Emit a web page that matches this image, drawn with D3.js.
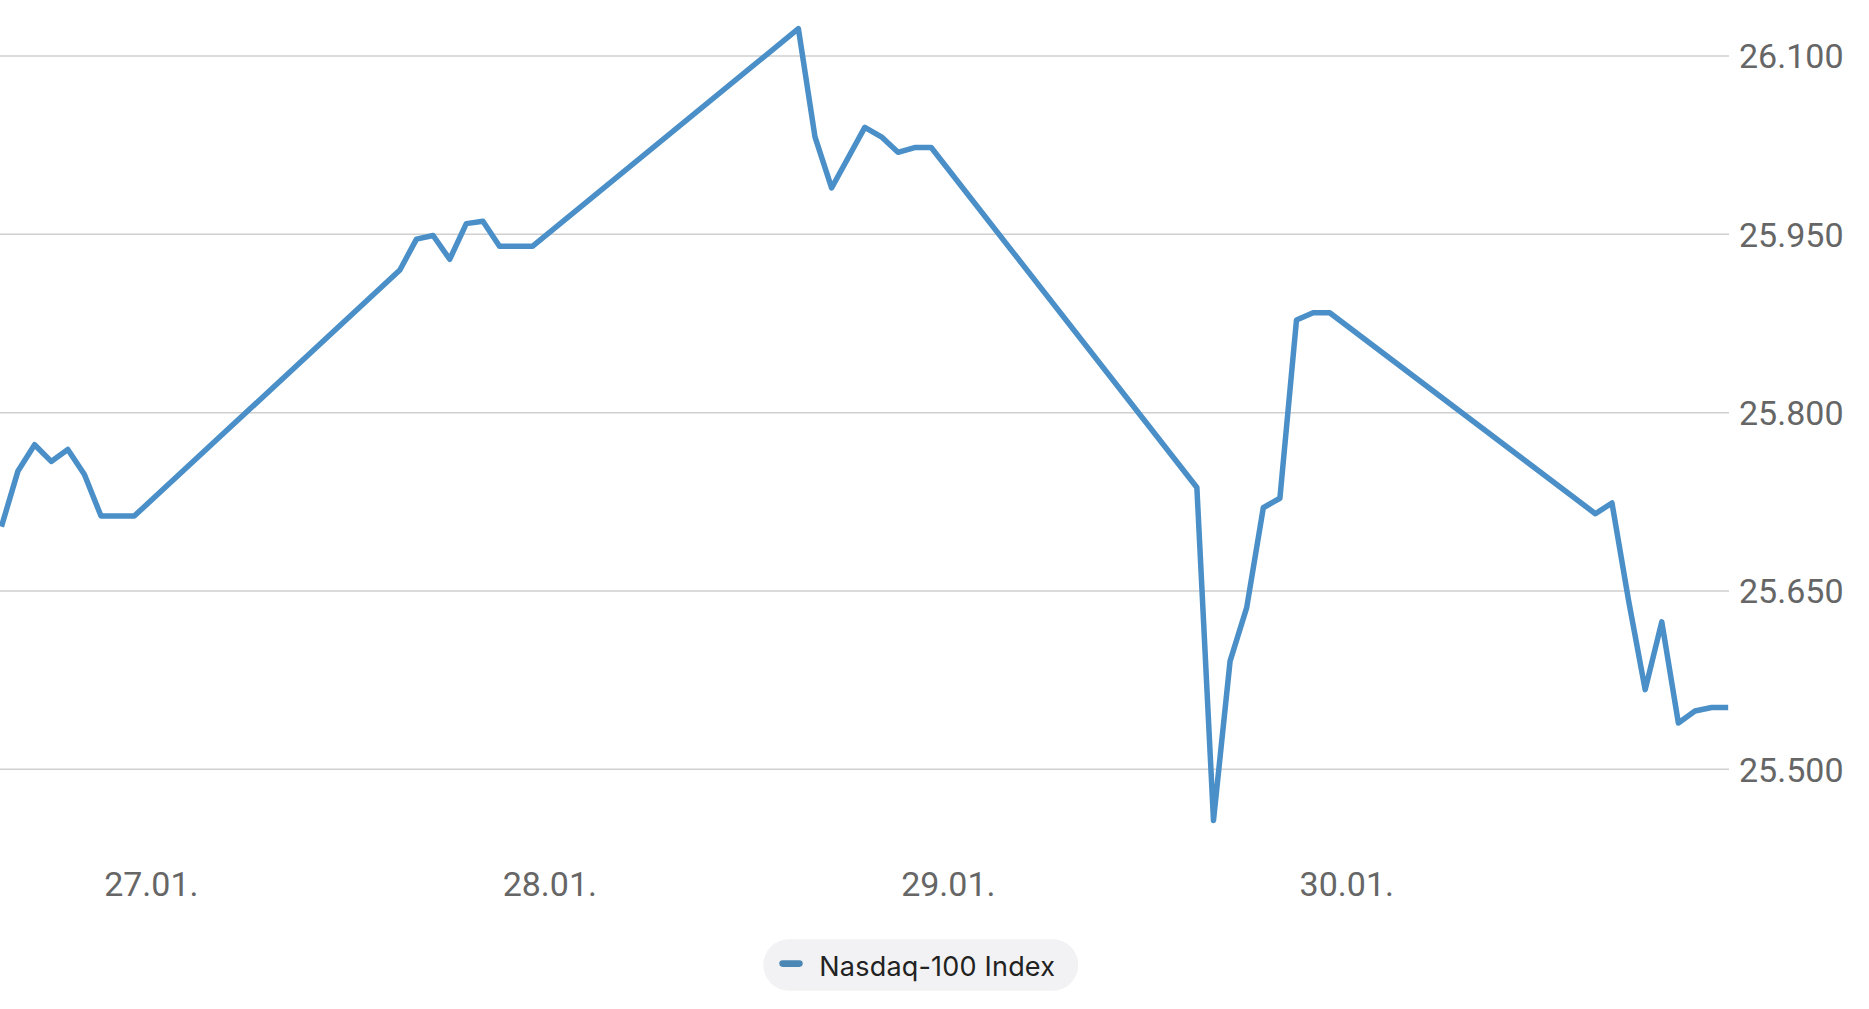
<!DOCTYPE html>
<html>
<head>
<meta charset="utf-8">
<script src="https://cdn.jsdelivr.net/npm/d3@7"></script>
<style>
  html, body { margin: 0; padding: 0; background: #ffffff; }
  svg { display: block; }
</style>
</head>
<body>
<svg id="chart" width="1869" height="1009"></svg>
<script>
// ---- data ----
const seriesName = "Nasdaq-100 Index";
const times = [
  "2026-01-26 15:00","2026-01-26 16:00","2026-01-26 17:00","2026-01-26 18:00","2026-01-26 19:00","2026-01-26 20:00","2026-01-26 21:00","2026-01-26 22:00","2026-01-26 23:00",
  "2026-01-27 15:00","2026-01-27 16:00","2026-01-27 17:00","2026-01-27 18:00","2026-01-27 19:00","2026-01-27 20:00","2026-01-27 21:00","2026-01-27 22:00","2026-01-27 23:00",
  "2026-01-28 15:00","2026-01-28 16:00","2026-01-28 17:00","2026-01-28 19:00","2026-01-28 20:00","2026-01-28 21:00","2026-01-28 22:00","2026-01-28 23:00",
  "2026-01-29 15:00","2026-01-29 16:00","2026-01-29 17:00","2026-01-29 18:00","2026-01-29 19:00","2026-01-29 20:00","2026-01-29 21:00","2026-01-29 22:00","2026-01-29 23:00",
  "2026-01-30 15:00","2026-01-30 16:00","2026-01-30 17:00","2026-01-30 18:00","2026-01-30 19:00","2026-01-30 20:00","2026-01-30 21:00","2026-01-30 22:00","2026-01-30 23:00"
];
const values = [
  25704, 25751, 25773, 25759, 25769, 25748, 25713, 25713, 25713,
  25920, 25946, 25949, 25929, 25959, 25961, 25940, 25940, 25940,
  26123, 26032, 25989, 26040, 26032, 26019, 26023, 26023,
  25737, 25457, 25591, 25636, 25720, 25728, 25878, 25884, 25884,
  25715, 25724, 25642, 25567, 25624, 25539, 25549, 25552, 25552
];
const yTicks = [25500, 25650, 25800, 25950, 26100];
const xTickDates = ["2026-01-27", "2026-01-28", "2026-01-29", "2026-01-30"];

// ---- setup ----
const parseTime = d3.timeParse("%Y-%m-%d %H:%M");
const parseDay = d3.timeParse("%Y-%m-%d");
const data = times.map((t, i) => ({ t: parseTime(t), v: values[i] }));

const locale = d3.formatLocale({ decimal: ",", thousands: ".", grouping: [3], currency: ["", "€"] });
const fmtY = locale.format(",.0f");
const fmtX = d3.timeFormat("%d.%m.");

const svg = d3.select("#chart");

const x = d3.scaleTime()
  .domain([data[0].t, data[data.length - 1].t])
  .range([1.4, 1728.2]);

const y = d3.scaleLinear()
  .domain([25500, 26100])
  .range([769.3, 56]);

// gridlines
svg.append("g").selectAll("line")
  .data(yTicks)
  .join("line")
  .attr("x1", 0)
  .attr("x2", 1729)
  .attr("y1", d => y(d))
  .attr("y2", d => y(d))
  .attr("stroke", "#cfcfcf")
  .attr("stroke-width", 1.5);

// y axis (right)
const yAxis = d3.axisRight(y).tickValues(yTicks).tickFormat(fmtY).tickSize(0).tickPadding(0);
const gy = svg.append("g").attr("transform", "translate(1739,0)").call(yAxis);
gy.select(".domain").remove();
gy.selectAll("text")
  .attr("font-family", "Roboto, sans-serif")
  .attr("font-size", 34)
  .attr("fill", "#666666")
  .attr("dy", "0.35em");

// x axis
const xAxis = d3.axisBottom(x).tickValues(xTickDates.map(parseDay)).tickFormat(fmtX).tickSize(0).tickPadding(0);
const gx = svg.append("g").attr("transform", "translate(0,873)").call(xAxis);
gx.select(".domain").remove();
gx.selectAll("text")
  .attr("font-family", "Roboto, sans-serif")
  .attr("font-size", 34)
  .attr("fill", "#666666")
  .attr("dy", "0.69em");

// line
const line = d3.line().x(d => x(d.t)).y(d => y(d.v));
svg.append("path")
  .datum(data)
  .attr("d", line)
  .attr("fill", "none")
  .attr("stroke", "#4a8fc7")
  .attr("stroke-width", 5.5)
  .attr("stroke-linejoin", "round")
  .attr("stroke-linecap", "butt");

// legend
const lg = svg.append("g");
lg.append("rect")
  .attr("x", 763.3).attr("y", 939.3)
  .attr("width", 315).attr("height", 51.4)
  .attr("rx", 25.7)
  .attr("fill", "#f2f2f4");
lg.append("rect")
  .attr("x", 779.3).attr("y", 960.3)
  .attr("width", 23.4).attr("height", 6.6)
  .attr("rx", 3.3)
  .attr("fill", "#4b87b4");
lg.append("text")
  .attr("x", 819.3).attr("y", 975.7)
  .attr("font-family", "Inter, sans-serif")
  .attr("font-size", 27)
  .attr("letter-spacing", 0.2)
  .attr("fill", "#222222")
  .text(seriesName);
</script>
</body>
</html>
